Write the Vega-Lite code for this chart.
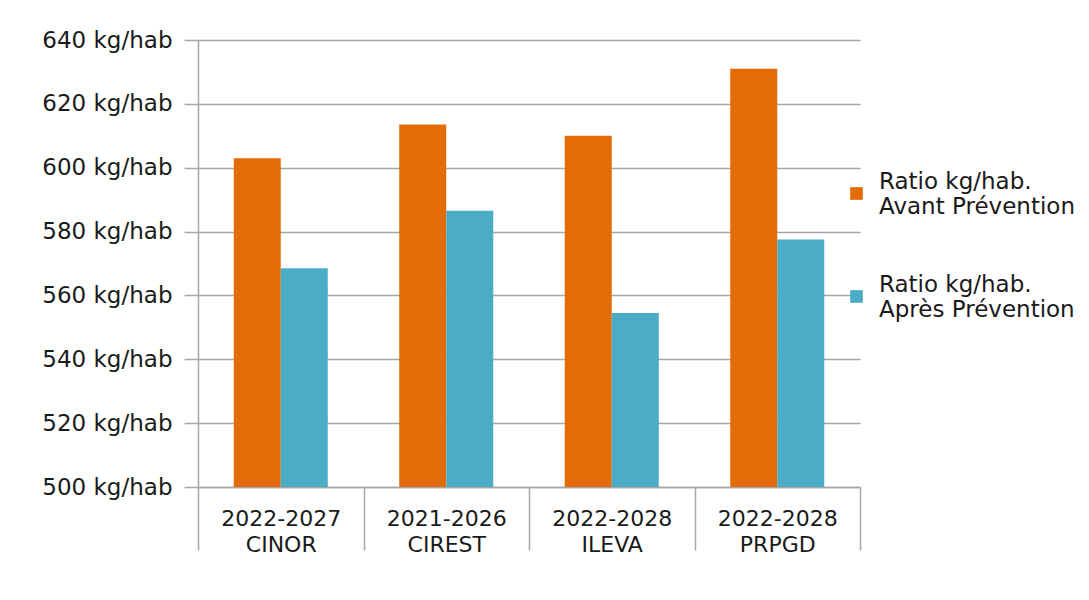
{
  "$schema": "https://vega.github.io/schema/vega-lite/v6.json",
  "width": 662,
  "height": 447,
  "autosize": {"type": "none"},
  "padding": {"left": 198, "top": 40, "right": 229, "bottom": 113},
  "background": "white",
  "config": {
    "font": "DejaVu Sans",
    "view": {"stroke": null},
    "axis": {"labelFont": "DejaVu Sans", "labelColor": "#1a1a1a"},
    "legend": {"labelFont": "DejaVu Sans", "labelColor": "#1a1a1a"}
  },
  "data": {
    "values": [
      {"plan": "2022-2027 CINOR", "serie": "Ratio kg/hab. Avant Prévention", "ratio": 603},
      {"plan": "2022-2027 CINOR", "serie": "Ratio kg/hab. Après Prévention", "ratio": 568.5},
      {"plan": "2021-2026 CIREST", "serie": "Ratio kg/hab. Avant Prévention", "ratio": 613.5},
      {"plan": "2021-2026 CIREST", "serie": "Ratio kg/hab. Après Prévention", "ratio": 586.5},
      {"plan": "2022-2028 ILEVA", "serie": "Ratio kg/hab. Avant Prévention", "ratio": 610},
      {"plan": "2022-2028 ILEVA", "serie": "Ratio kg/hab. Après Prévention", "ratio": 554.5},
      {"plan": "2022-2028 PRPGD", "serie": "Ratio kg/hab. Avant Prévention", "ratio": 631},
      {"plan": "2022-2028 PRPGD", "serie": "Ratio kg/hab. Après Prévention", "ratio": 577.5}
    ]
  },
  "mark": {"type": "bar", "clip": true},
  "encoding": {
    "x": {
      "field": "plan",
      "type": "nominal",
      "sort": null,
      "scale": {"paddingInner": 0, "paddingOuter": 0},
      "axis": {
        "title": null,
        "labelAngle": 0,
        "labelExpr": "split(datum.label, ' ')",
        "labelFontSize": 22,
        "labelLineHeight": 26,
        "labelPadding": -42,
        "tickBand": "extent",
        "tickSize": 63,
        "tickColor": "#a6a6a6",
        "tickWidth": 1.5,
        "domainColor": "#a6a6a6",
        "domainWidth": 1.5,
        "labelBaseline": "top"
      }
    },
    "xOffset": {
      "field": "serie",
      "type": "nominal",
      "sort": null,
      "scale": {"paddingInner": 0, "paddingOuter": 0.76}
    },
    "y": {
      "field": "ratio",
      "type": "quantitative",
      "scale": {"domain": [500, 640], "zero": false, "nice": false},
      "axis": {
        "title": null,
        "values": [500, 520, 540, 560, 580, 600, 620, 640],
        "labelExpr": "datum.value + ' kg/hab'",
        "labelFontSize": 23,
        "labelPadding": 12,
        "tickSize": 14,
        "tickColor": "#a6a6a6",
        "tickWidth": 1.5,
        "gridColor": "#a6a6a6",
        "gridWidth": 1.5,
        "domainColor": "#a6a6a6",
        "domainWidth": 1.5
      }
    },
    "color": {
      "field": "serie",
      "type": "nominal",
      "sort": null,
      "scale": {
        "domain": ["Ratio kg/hab. Avant Prévention", "Ratio kg/hab. Après Prévention"],
        "range": ["#E36C09", "#4BACC6"]
      },
      "legend": {
        "title": null,
        "orient": "none",
        "legendX": 647,
        "legendY": 142,
        "labelExpr": "[slice(datum.label, 0, 13), slice(datum.label, 14)]",
        "labelFontSize": 23,
        "labelLineHeight": 25,
        "labelBaseline": "bottom",
        "labelLimit": 300,
        "labelOffset": 11,
        "symbolType": "square",
        "symbolSize": 160,
        "symbolStrokeWidth": 0,
        "rowPadding": 54
      }
    }
  }
}
